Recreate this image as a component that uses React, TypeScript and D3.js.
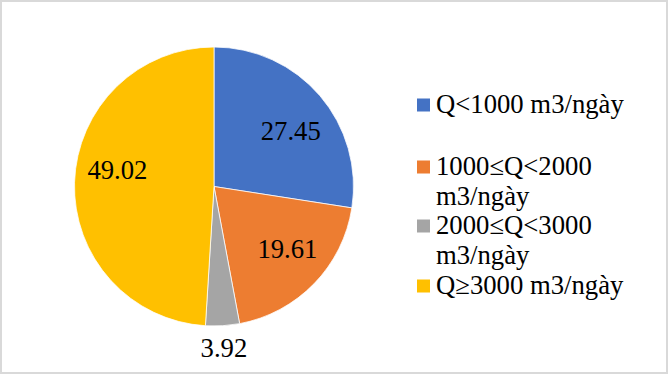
import React from "react";
import * as d3 from "d3";

const categories = [
  "Q<1000 m3/ngày",
  "1000≤Q<2000 m3/ngày",
  "2000≤Q<3000 m3/ngày",
  "Q≥3000 m3/ngày",
];
const legendLines = [
  ["Q<1000 m3/ngày"],
  ["1000≤Q<2000", "m3/ngày"],
  ["2000≤Q<3000", "m3/ngày"],
  ["Q≥3000 m3/ngày"],
];
const values = [27.45, 19.61, 3.92, 49.02];
const colors = ["#4472c4", "#ed7d31", "#a5a5a5", "#ffc000"];

// label layout (Excel "best fit"): radius and a small angular nudge, in degrees
const labelRadius = [95, 96, 161, 98];
const labelNudge = [4.5, -4, 0, 8];

const W = 668;
const H = 374;
const FONT = "Liberation Serif";

type Datum = { name: string; value: number; i: number };

const cx = 214;
const cy = 186.5;
const R = 139.5;

const App: React.FC = () => {
  const data: Datum[] = categories.map((c, i) => ({ name: c, value: values[i], i }));
  const arcs = d3
    .pie<Datum>()
    .value((d) => d.value)
    .sort(null)(data);

  const arc = d3.arc<d3.PieArcDatum<Datum>>().innerRadius(0).outerRadius(R);

  const legendX = 417;
  const textX = 436;
  const rowBaselines = [113, 175, 234, 294];
  const lineGap = 30;

  return (
    <svg
      width={W}
      height={H}
      style={{ position: "absolute", left: 0, top: 0, display: "block" }}
    >
      <rect x={1} y={1} width={W - 2} height={H - 2} fill="#fff" stroke="#d9d9d9" strokeWidth={2} />
      <g transform={`translate(${cx},${cy})`}>
        {arcs.map((d) => (
          <path key={d.data.name} d={arc(d) ?? ""} fill={colors[d.data.i]} stroke="#fff" strokeWidth={0.75} />
        ))}
        {arcs.map((d) => {
          const mid = (d.startAngle + d.endAngle) / 2 + (labelNudge[d.data.i] * Math.PI) / 180;
          const [x, y] = d3.pointRadial(mid, labelRadius[d.data.i]);
          return (
            <text
              key={"l" + d.data.name}
              x={x}
              y={y}
              dy="0.35em"
              textAnchor="middle"
              fontFamily={FONT}
              fontSize={26.7}
              fill="#000"
            >
              {d.data.value.toFixed(2)}
            </text>
          );
        })}
      </g>
      <g>
        {legendLines.map((lines, i) => (
          <g key={categories[i]}>
            <rect x={legendX} y={rowBaselines[i] - 14.5} width={13} height={13} fill={colors[i]} />
            <text fontFamily={FONT} fontSize={26.7} fill="#000">
              {lines.map((ln, j) => (
                <tspan key={j} x={textX} y={rowBaselines[i] + j * lineGap}>
                  {ln}
                </tspan>
              ))}
            </text>
          </g>
        ))}
      </g>
    </svg>
  );
};

export default App;
